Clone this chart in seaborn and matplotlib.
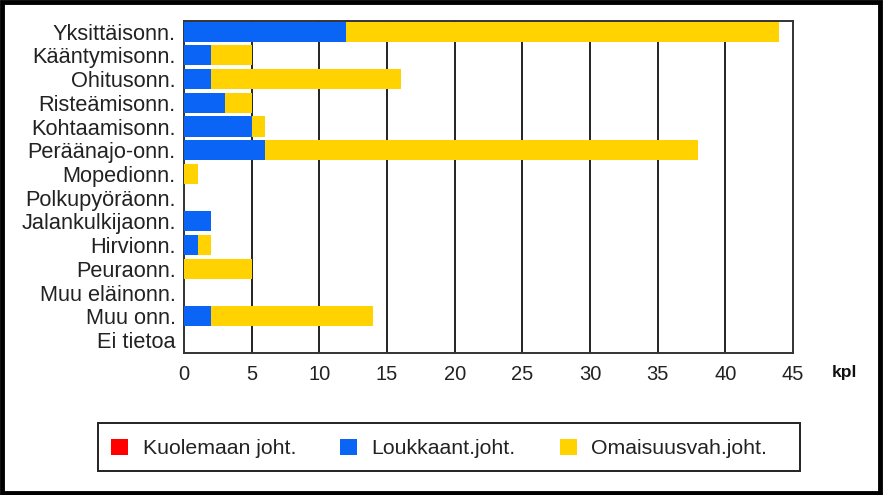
import matplotlib
matplotlib.use("Agg")
import matplotlib.pyplot as plt
import matplotlib.patches as mpatches
import seaborn as sns
import numpy as np
import pandas as pd

categories = ["Yksittäisonn.", "Kääntymisonn.", "Ohitusonn.", "Risteämisonn.",
              "Kohtaamisonn.", "Peräänajo-onn.", "Mopedionn.", "Polkupyöräonn.",
              "Jalankulkijaonn.", "Hirvionn.", "Peuraonn.", "Muu eläinonn.",
              "Muu onn.", "Ei tietoa"]
kuolemaan = [0, 0, 0, 0, 0, 0, 0, 0, 0, 0, 0, 0, 0, 0]
loukkaant = [12, 2, 2, 3, 5, 6, 0, 0, 2, 1, 0, 0, 2, 0]
omaisuus = [32, 3, 14, 2, 1, 32, 1, 0, 0, 1, 5, 0, 12, 0]
series_names = ["Kuolemaan joht.", "Loukkaant.joht.", "Omaisuusvah.joht."]
colors = ["#FF0000", "#0A64F5", "#FFD200"]
xticks = [0, 5, 10, 15, 20, 25, 30, 35, 40, 45]

sns.set_style("white")
plt.rcParams['font.family'] = ['Liberation Sans', 'DejaVu Sans']

df = pd.DataFrame({"cat": categories, "k": kuolemaan, "l": loukkaant, "o": omaisuus})
df["c1"] = df["k"]
df["c2"] = df["k"] + df["l"]
df["c3"] = df["k"] + df["l"] + df["o"]

fig = plt.figure(figsize=(8.84, 4.95), dpi=100)
ax = fig.add_axes([184/884, 1-353/495, (793-184)/884, (353-21)/495])

for col, c in zip(["c3", "c2", "c1"], [colors[2], colors[1], colors[0]]):
    sns.barplot(data=df, x=col, y="cat", color=c, width=0.85, ax=ax,
                orient="h", saturation=1, linewidth=0, zorder=3)

ax.set_xlim(0, 45)
ax.set_ylim(13.55, -0.45)
ax.set_xticks(xticks)
ax.set_xticklabels([str(t) for t in xticks])
ax.set_xlabel("")
ax.set_ylabel("")
ax.tick_params(axis="both", length=0, labelsize=14.5, colors="#222222")
ax.tick_params(axis="y", pad=6, labelsize=15.7)
ax.tick_params(axis="x", pad=9)
for t in xticks[1:-1]:
    ax.axvline(t, color="#222222", lw=1.4, zorder=1)
for s in ax.spines.values():
    s.set_color("#333333")
    s.set_linewidth(1.4)
    s.set_visible(True)

fig.text(832/884, 1-373/495, "kpl", fontsize=12.5, fontweight="bold",
         ha="left", va="center", color="#111111")

handles = [mpatches.Patch(facecolor=c, edgecolor="none") for c in colors]
leg = fig.legend(handles, series_names, ncol=3, loc="lower left",
                 bbox_to_anchor=(98/884, 1-471/495, (780-98)/884, 48/495),
                 mode="expand", fontsize=15.3, frameon=False,
                 handlelength=0.8, handleheight=0.8,
                 handletextpad=0.7, borderaxespad=0, borderpad=0.6)
for t in leg.get_texts():
    t.set_color("#222222")

legframe = mpatches.Rectangle((98/884, 1-471/495), (800-98)/884, 48/495,
                              transform=fig.transFigure, fill=False,
                              edgecolor="#222222", linewidth=1.4)
fig.patches.append(legframe)

border = mpatches.Rectangle((0.002, 0.004), 0.993, 0.992, transform=fig.transFigure,
                            fill=False, edgecolor="black", linewidth=3.5)
fig.patches.append(border)

fig.savefig("out.png", dpi=100)
